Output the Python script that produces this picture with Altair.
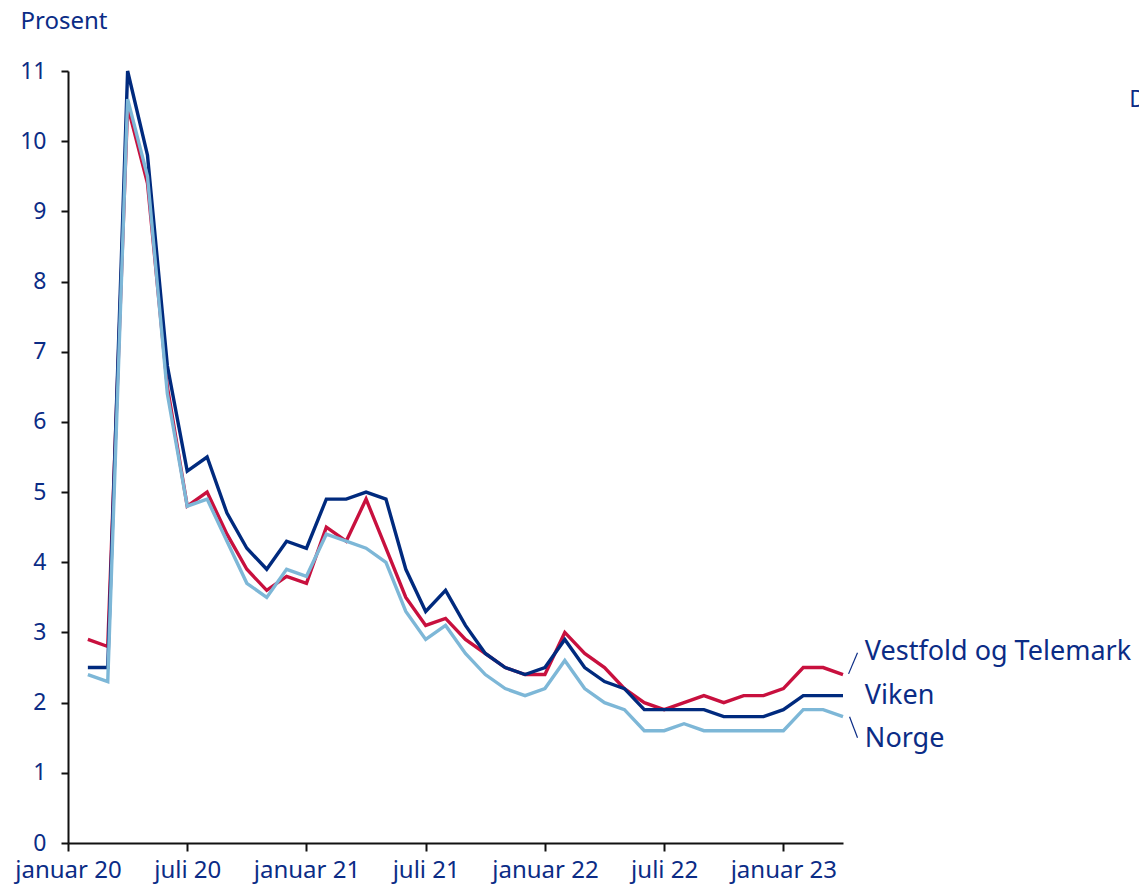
import altair as alt
import pandas as pd

# Month index: 0 = start of januar 2020; each observation is plotted at end of its month
months = list(range(1, 40))  # Jan 2020 .. Mar 2023

vestfold = [2.9, 2.8, 10.5, 9.4, 6.5, 4.8, 5.0, 4.4, 3.9, 3.6, 3.8, 3.7, 4.5, 4.3, 4.9, 4.2,
            3.5, 3.1, 3.2, 2.9, 2.7, 2.5, 2.4, 2.4, 3.0, 2.7, 2.5, 2.2, 2.0, 1.9, 2.0, 2.1,
            2.0, 2.1, 2.1, 2.2, 2.5, 2.5, 2.4]
viken = [2.5, 2.5, 11.0, 9.8, 6.8, 5.3, 5.5, 4.7, 4.2, 3.9, 4.3, 4.2, 4.9, 4.9, 5.0, 4.9,
         3.9, 3.3, 3.6, 3.1, 2.7, 2.5, 2.4, 2.5, 2.9, 2.5, 2.3, 2.2, 1.9, 1.9, 1.9, 1.9,
         1.8, 1.8, 1.8, 1.9, 2.1, 2.1, 2.1]
norge = [2.4, 2.3, 10.6, 9.5, 6.4, 4.8, 4.9, 4.3, 3.7, 3.5, 3.9, 3.8, 4.4, 4.3, 4.2, 4.0,
         3.3, 2.9, 3.1, 2.7, 2.4, 2.2, 2.1, 2.2, 2.6, 2.2, 2.0, 1.9, 1.6, 1.6, 1.7, 1.6,
         1.6, 1.6, 1.6, 1.6, 1.9, 1.9, 1.8]

series_names = ["Vestfold og Telemark", "Viken", "Norge"]
series_colors = ["#C8103E", "#002A7E", "#7DB7D7"]

x_ticks = [0, 6, 12, 18, 24, 30, 36]
y_ticks = list(range(0, 12))

# end-of-line labels
label_x = [40.1, 40.1, 40.1]
label_y = [2.72, 2.1, 1.48]

TEXT = "#0B2C86"
FONT = "Noto Sans"

rows = []
for name, vals in zip(series_names, [vestfold, viken, norge]):
    for m, v in zip(months, vals):
        rows.append({"m": m, "v": v, "serie": name})
df = pd.DataFrame(rows)

x_scale = alt.Scale(domain=[0, 39], nice=False, zero=False)
y_scale = alt.Scale(domain=[0, 11], nice=False)

label_expr = ("datum.value % 12 == 0 ? 'januar ' + (20 + datum.value / 12) : "
              "'juli ' + (20 + floor(datum.value / 12))")

base = alt.Chart(df)

lines = base.mark_line(strokeWidth=3.4, clip=False).encode(
    x=alt.X("m:Q", scale=x_scale,
            axis=alt.Axis(values=x_ticks, labelExpr=label_expr, title=None, grid=False,
                          labelOverlap=False, labelBound=False, labelFlush=False,
                          domainColor="#111111", domainWidth=2, tickColor="#111111",
                          tickWidth=2, tickSize=8, labelPadding=7, labelFontSize=24,
                          labelColor=TEXT, labelFont=FONT)),
    y=alt.Y("v:Q", scale=y_scale,
            axis=alt.Axis(values=y_ticks, format="d", title="Prosent", titleAngle=0,
                          titleAlign="left", titleBaseline="middle", titleX=-48, titleY=-50,
                          titleFontSize=24, titleFontWeight="normal", titleColor=TEXT,
                          titleFont=FONT, labelOverlap=False,
                          grid=False, domainColor="#111111", domainWidth=2,
                          tickColor="#111111", tickWidth=2, tickSize=7, labelPadding=15,
                          labelFontSize=23, labelColor=TEXT, labelFont=FONT)),
    color=alt.Color("serie:N", scale=alt.Scale(domain=series_names, range=series_colors),
                    legend=None),
    order=alt.Order("m:Q"),
    detail="serie:N",
)

# draw order: Vestfold, Viken, Norge
line_layers = [
    lines.transform_filter(alt.datum.serie == n) for n in ["Vestfold og Telemark", "Viken", "Norge"]
]

lab_df = pd.DataFrame({"x": label_x, "y": label_y, "t": series_names})
labels = alt.Chart(lab_df).mark_text(align="left", baseline="middle", fontSize=27,
                                     font=FONT, color=TEXT, clip=False).encode(
    x=alt.X("x:Q", scale=x_scale), y=alt.Y("y:Q", scale=y_scale), text="t:N")

conn_df = pd.DataFrame({"x": [39.28, 39.33], "y": [2.41, 1.80],
                        "x2": [39.73, 39.73], "y2": [2.71, 1.50]})
connectors = alt.Chart(conn_df).mark_rule(color=TEXT, strokeWidth=1.2, clip=False).encode(
    x=alt.X("x:Q", scale=x_scale), y=alt.Y("y:Q", scale=y_scale), x2="x2:Q", y2="y2:Q")

note_df = pd.DataFrame({"x": [53.4], "y": [10.59], "t": ["D"]})
note = alt.Chart(note_df).mark_text(align="left", baseline="middle", fontSize=23,
                                    font=FONT, color=TEXT, clip=False).encode(
    x=alt.X("x:Q", scale=x_scale), y=alt.Y("y:Q", scale=y_scale), text="t:N")

chart = alt.layer(*line_layers, labels, connectors, note).properties(
    width=775, height=772,
    autosize=alt.AutoSizeParams(type="none"),
    padding={"left": 60, "top": 63, "right": 296, "bottom": 42},
).configure_view(stroke=None)

chart.save("out.html", embed_options={"renderer": "svg", "actions": False})
